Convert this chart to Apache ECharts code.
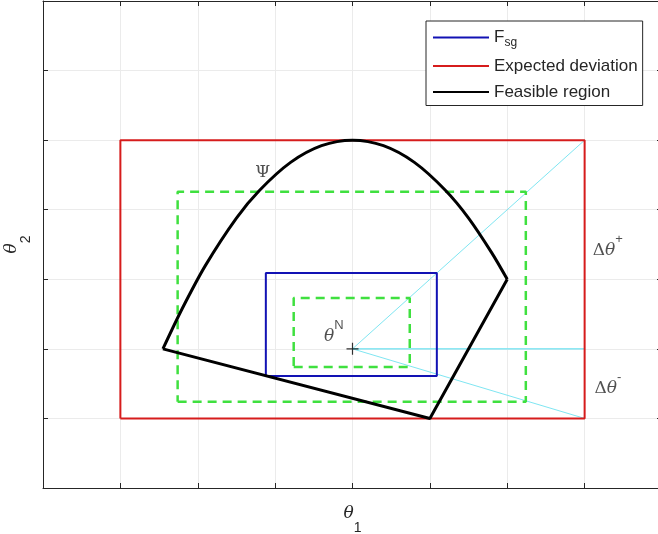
<!DOCTYPE html>
<html>
<head>
<meta charset="utf-8">
<script src="https://cdn.jsdelivr.net/npm/echarts@6/dist/echarts.min.js"></script>
<style>
html,body{margin:0;padding:0;background:#fff;}
#chart{width:658px;height:534px;}
</style>
</head>
<body>
<div id="chart"></div>
<script>
// ---- data (axis units) ----
var xTicks = [0, 1, 2, 3, 4, 5, 6, 7, 8];
var yTicks = [0, 1, 2, 3, 4, 5, 6, 7];
var expectedX = [1, 7, 7, 1, 1];
var expectedY = [1, 1, 5, 5, 1];
var fsgX = [2.88, 5.09, 5.09, 2.88, 2.88];
var fsgY = [1.61, 1.61, 3.09, 3.09, 1.61];
var innerDashX = [3.24, 4.74, 4.74, 3.24, 3.24];
var innerDashY = [1.74, 1.74, 2.73, 2.73, 1.74];
var outerDashX = [1.74, 6.24, 6.24, 1.74, 1.74];
var outerDashY = [1.24, 1.24, 4.26, 4.26, 1.24];
var feasEdgeX = [6.0, 5.0, 1.55];
var feasEdgeY = [3.0, 1.0, 2.0];
var feasCurveX = [1.55, 1.8, 2.1, 2.5, 2.8, 3.2, 3.6, 4.0, 4.4, 4.8, 5.2, 5.5, 5.8, 6.0];
var feasCurveY = [2.0, 2.58, 3.2, 3.88, 4.28, 4.68, 4.92, 5.0, 4.92, 4.68, 4.28, 3.88, 3.38, 3.0];
var cyanX = [7, 4, 7, 4, 7];
var cyanY = [5, 2, 2, 2, 1];
var centerX = [4];
var centerY = [2];
var annotX = [2.84, 3.76, 7.30, 7.30];
var annotY = [4.54, 2.24, 3.48, 1.49];
var annotText = ['{psi|Ψ}', '{th|θ}{sup|N}', '{d|Δ}{th|θ}{sup|+}', '{d|Δ}{th|θ}{sup|-}'];
var legendNames = ['F_sg', 'Expected deviation', 'Feasible region'];

function pairs(xs, ys) { return xs.map(function (x, i) { return [x, ys[i]]; }); }

var chart = echarts.init(document.getElementById('chart'), null, {renderer: 'canvas'});

var axisColor = '#262626';
var gridColor = '#ebebeb';

function lineSeries(name, xs, ys, color, width, type, extra) {
  var s = {
    name: name, type: 'line', data: pairs(xs, ys), symbol: 'none', showSymbol: false,
    lineStyle: {color: color, width: width, type: type || 'solid'},
    itemStyle: {color: color},
    animation: false, silent: true
  };
  for (var k in extra) s[k] = extra[k];
  return s;
}

var option = {
  animation: false,
  backgroundColor: '#fff',
  grid: {left: 43, top: 1, right: -4, bottom: 46, containLabel: false, outerBoundsMode: 'none'},
  xAxis: [{
    type: 'value', min: 0, max: 8, interval: 1,
    name: '{t|θ}{s|1}', nameLocation: 'middle', nameGap: 17,
    nameTextStyle: {rich: {
      t: {fontFamily: 'DejaVu Serif', fontStyle: 'italic', fontSize: 17, color: '#262626', lineHeight: 30, verticalAlign: 'top'},
      s: {fontFamily: 'Liberation Sans', fontSize: 14, color: '#262626', lineHeight: 30, verticalAlign: 'bottom', padding: [6, 0, 0, 0]}
    }},
    axisLine: {show: true, onZero: false, lineStyle: {color: axisColor, width: 1}},
    axisTick: {show: true, inside: true, length: 5, lineStyle: {color: axisColor}},
    axisLabel: {show: false},
    splitLine: {show: true, lineStyle: {color: gridColor, width: 1}}
  }, {
    type: 'value', position: 'top', min: 0, max: 8, interval: 1,
    axisLine: {show: true, onZero: false, lineStyle: {color: axisColor, width: 1}},
    axisTick: {show: true, inside: true, length: 5, lineStyle: {color: axisColor}},
    axisLabel: {show: false}, splitLine: {show: false}
  }],
  yAxis: [{
    type: 'value', min: 0, max: 7, interval: 1,
    name: '{t|θ}{s|2}', nameLocation: 'middle', nameGap: 10,
    nameTextStyle: {rich: {
      t: {fontFamily: 'DejaVu Serif', fontStyle: 'italic', fontSize: 17, color: '#262626', lineHeight: 30, verticalAlign: 'top'},
      s: {fontFamily: 'Liberation Sans', fontSize: 14, color: '#262626', lineHeight: 30, verticalAlign: 'bottom', padding: [10, 0, 0, 0]}
    }},
    axisLine: {show: true, onZero: false, lineStyle: {color: axisColor, width: 1}},
    axisTick: {show: true, inside: true, length: 5, lineStyle: {color: axisColor}},
    axisLabel: {show: false},
    splitLine: {show: true, lineStyle: {color: gridColor, width: 1}}
  }, {
    type: 'value', position: 'right', min: 0, max: 7, interval: 1,
    axisLine: {show: true, onZero: false, lineStyle: {color: axisColor, width: 1}},
    axisTick: {show: true, inside: true, length: 5, lineStyle: {color: axisColor}},
    axisLabel: {show: false}, splitLine: {show: false}
  }],
  legend: {
    show: true, orient: 'vertical', left: 426, top: 21,
    data: legendNames,
    itemWidth: 56, itemHeight: 16, itemGap: 9,
    padding: [8, 5, 5, 6],
    backgroundColor: '#fff', borderColor: '#262626', borderWidth: 1,
    selectedMode: false,
    itemStyle: {opacity: 0},
    formatter: function (n) { return n === 'F_sg' ? '{m|F}{s|sg}' : '{m|' + n + '}'; },
    textStyle: {
      fontFamily: 'Liberation Sans', fontSize: 17, color: '#262626',
      rich: {
        m: {fontFamily: 'Liberation Sans', fontSize: 17, color: '#262626'},
        s: {fontFamily: 'Liberation Sans', fontSize: 12, color: '#262626', verticalAlign: 'bottom', padding: [10, 0, 0, 0]}
      }
    }
  },
  series: [
    lineSeries('cyan', cyanX, cyanY, '#7fe6f2', 1, 'solid', {z: 2}),
    lineSeries('Expected deviation', expectedX, expectedY, '#d61c1c', 2, 'solid', {z: 3}),
    lineSeries('F_sg', fsgX, fsgY, '#1212b4', 2, 'solid', {z: 4}),
    lineSeries('outerDash', outerDashX, outerDashY, '#3fe03f', 2.5, [9, 6], {z: 3}),
    lineSeries('innerDash', innerDashX, innerDashY, '#3fe03f', 2.5, [9, 6], {z: 3}),
    lineSeries('Feasible region', feasEdgeX, feasEdgeY, '#000000', 3, 'solid', {z: 5}),
    lineSeries('Feasible region', feasCurveX, feasCurveY, '#000000', 3, 'solid', {z: 5, smooth: 0.3}),
    {
      name: 'center', type: 'scatter', data: pairs(centerX, centerY),
      symbol: 'path://M0,6 L12,6 M6,0 L6,12', symbolSize: 12,
      itemStyle: {color: 'rgba(0,0,0,0)', borderColor: '#000', borderWidth: 1.2},
      z: 6, silent: true
    },
    {
      name: 'annot', type: 'scatter', data: pairs(annotX, annotY),
      symbolSize: 0, z: 7, silent: true,
      label: {
        show: true, position: 'inside',
        formatter: function (p) { return annotText[p.dataIndex]; },
        rich: {
          psi: {fontFamily: 'DejaVu Serif', fontSize: 17, color: '#262626'},
          d: {fontFamily: 'DejaVu Serif', fontSize: 17, color: '#262626', lineHeight: 26, verticalAlign: 'bottom'},
          th: {fontFamily: 'DejaVu Serif', fontStyle: 'italic', fontSize: 17, color: '#262626', lineHeight: 26, verticalAlign: 'bottom'},
          sup: {fontFamily: 'Liberation Sans', fontSize: 13, color: '#262626', lineHeight: 26, verticalAlign: 'top'}
        }
      }
    }
  ]
};
chart.setOption(option);
</script>
</body>
</html>
